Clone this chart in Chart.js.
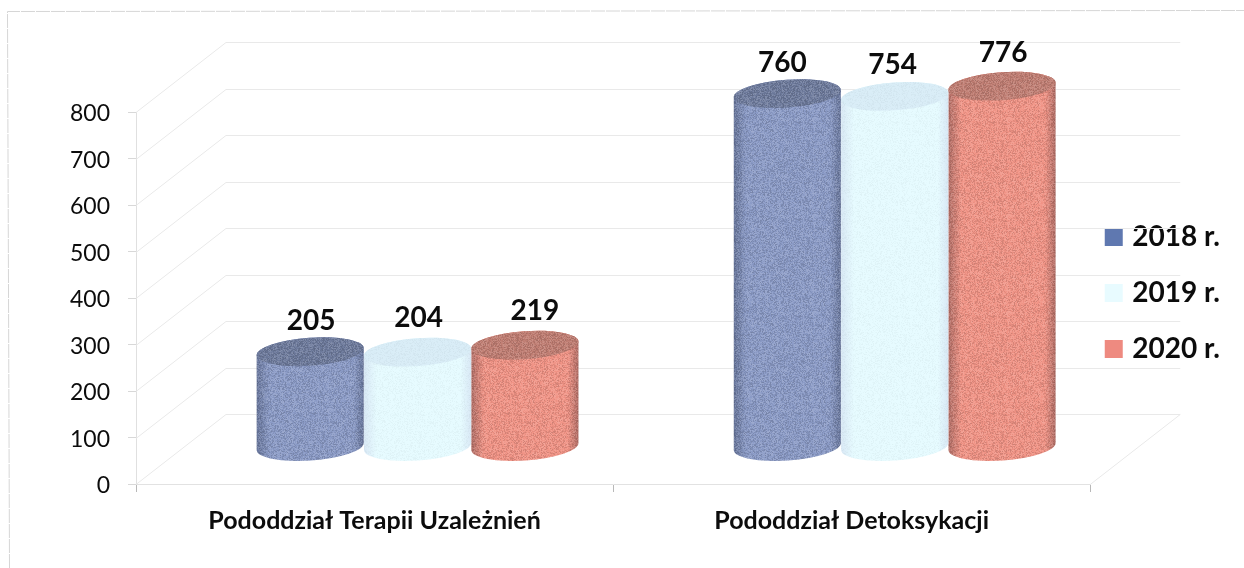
<!DOCTYPE html>
<html><head><meta charset="utf-8">
<script src="https://cdn.jsdelivr.net/npm/chart.js@4"></script>
<style>html,body{margin:0;padding:0;background:#fff}#w{width:1244px;height:568px}canvas{display:block;filter:blur(.4px)}</style>
</head><body><div id="w"><canvas id="c" width="1244" height="568"></canvas></div>
<script>
const categories = ['Pododdział Terapii Uzależnień', 'Pododdział Detoksykacji'];
const seriesNames = ['2018 r.', '2019 r.', '2020 r.'];
const values2018 = [205, 760];
const values2019 = [204, 754];
const values2020 = [219, 776];
const yTicksMax = 800;
const yTickStep = 100;

const FONT = 'Lato, Carlito, sans-serif';
const DEPTH_X = 90, DEPTH_Y = 70;      // 3-D wall offset
const BAR_DX = 43, BAR_DY = -37;       // cylinders stand mid-depth
const RY = 14, ROT = -0.07;
// small hand-placement of the value labels, per series then category
const LABEL_NUDGE = [[[0,0],[-6,0]], [[0,-3],[-3,0]], [[9,-3],[0,-2]]];

const palette = {
  '#5f78b0': {edge:'#66749a', mid:'#8a9ac6', top:'#6d7a9c', noise:.17},
  '#e8fbff': {edge:'#d8e8f5', mid:'#e6fbff', top:'#d9edf7', noise:.04},
  '#ee8a80': {edge:'#b06c64', mid:'#f19385', top:'#c07d72', noise:.16}
};

// fine grain like the scanned original
const grain = document.createElement('canvas');
grain.width = grain.height = 97;
(function(){
  const g = grain.getContext('2d'), im = g.createImageData(97,97);
  let s = 12345;
  for (let i=0;i<im.data.length;i+=4){
    s = (s*1103515245+12345)&0x7fffffff;
    const v = (s>>16)&255;
    const dark = v<128;
    im.data[i]=im.data[i+1]=im.data[i+2]=dark?20:255;
    im.data[i+3]=dark?(128-v)*2:(v-128)*2;
  }
  g.putImageData(im,0,0);
})();

Chart.BarElement.prototype.draw = function(ctx){
  const {x,y,base,width,options} = this;
  const c = palette[options.backgroundColor] || palette['#5f78b0'];
  const cx = x+BAR_DX, rx = width/2, top = y+BAR_DY, bot = base+BAR_DY;
  const pat = ctx.createPattern(grain,'repeat');
  ctx.save();
  const body = new Path2D();
  body.ellipse(cx,bot,rx,RY,ROT,0,Math.PI);
  body.ellipse(cx,top,rx,RY,ROT,Math.PI,Math.PI*2);
  body.closePath();
  const gr = ctx.createLinearGradient(cx-rx,0,cx+rx,0);
  gr.addColorStop(0,c.edge); gr.addColorStop(.12,c.mid);
  gr.addColorStop(.9,c.mid); gr.addColorStop(1,c.edge);
  ctx.fillStyle = gr; ctx.fill(body);
  const lid = new Path2D();
  lid.ellipse(cx,top,rx,RY,ROT,0,Math.PI*2);
  ctx.fillStyle = c.top; ctx.fill(lid);
  ctx.globalAlpha = c.noise; ctx.fillStyle = pat;
  ctx.fill(body);
  ctx.restore();
};

const decor = {
  id:'decor',
  afterLayout(chart){
    const lg = chart.legend;            // legend sits mid-height of the plot, closer to it
    const d = 293-(lg.top+lg.bottom)/2;
    lg.top += d; lg.bottom += d;
    lg.left -= 9; lg.right -= 9;
  },
  beforeDraw(chart){
    const ctx = chart.ctx;
    ctx.save();
    ctx.strokeStyle='#d6d6d6'; ctx.lineWidth=1; ctx.setLineDash([14,1]);
    ctx.beginPath();
    ctx.moveTo(9.5,568); ctx.lineTo(7.5,11.5); ctx.lineTo(1244,10.5);
    ctx.stroke();
    ctx.restore();
  },
  beforeDatasetsDraw(chart){
    const {ctx,chartArea:a,scales:{y}} = chart;
    ctx.save();
    ctx.strokeStyle='#e9e9e9'; ctx.lineWidth=1;
    y.ticks.forEach(t=>{
      const py = Math.round(y.getPixelForValue(t.value))+.5;
      ctx.beginPath();
      ctx.moveTo(a.left,py);
      ctx.lineTo(a.left+DEPTH_X,py-DEPTH_Y);
      ctx.lineTo(a.right+DEPTH_X,py-DEPTH_Y);
      ctx.stroke();
    });
    const y0 = Math.round(y.getPixelForValue(0))+.5;
    ctx.beginPath();
    ctx.moveTo(a.right+DEPTH_X,y0-DEPTH_Y);
    ctx.lineTo(a.right,y0);
    ctx.stroke();
    ctx.restore();
  },
  afterDatasetsDraw(chart){
    const ctx = chart.ctx;
    ctx.save();
    ctx.fillStyle='#0c0c0c'; ctx.font='bold 28px '+FONT;
    ctx.textAlign='center'; ctx.textBaseline='middle';
    chart.data.datasets.forEach((ds,i)=>{
      chart.getDatasetMeta(i).data.forEach((el,j)=>{
        const [nx,ny] = LABEL_NUDGE[i][j];
        ctx.fillText(ds.data[j], el.x+BAR_DX+1+nx, el.y+BAR_DY-31+ny);
      });
    });
    ctx.restore();
  }
};

const mk = (label,data,color)=>({label,data,backgroundColor:color,borderWidth:0,clip:false,pointStyle:'rect'});

new Chart(document.getElementById('c'),{
  type:'bar',
  data:{labels:categories,datasets:[
    mk(seriesNames[0],values2018,'#5f78b0'),
    mk(seriesNames[1],values2019,'#e8fbff'),
    mk(seriesNames[2],values2020,'#ee8a80')
  ]},
  plugins:[decor],
  options:{
    responsive:false,animation:false,
    layout:{padding:{top:112,left:0,right:5,bottom:0}},
    datasets:{bar:{categoryPercentage:.675,barPercentage:1}},
    plugins:{
      legend:{position:'right',labels:{
        usePointStyle:true,pointStyle:'rect',
        boxWidth:9,boxHeight:18,padding:28,color:'#0c0c0c',
        font:{family:FONT,size:28,weight:'bold'}
      }},
      tooltip:{enabled:false}
    },
    scales:{
      x:{
        grid:{drawOnChartArea:false,tickLength:8,tickColor:'#b8b8b8',offset:true},
        border:{color:'#e2e2e2'},
        ticks:{color:'#0c0c0c',font:{family:FONT,size:25,weight:'bold'},maxRotation:0,padding:14},
        afterFit(s){s.height=84;}
      },
      y:{
        min:0,max:yTicksMax,
        grid:{drawOnChartArea:false,tickLength:8,tickColor:'#d8d8d8'},
        border:{color:'#e0e0e0'},
        ticks:{stepSize:yTickStep,color:'#0c0c0c',font:{family:FONT,size:23},padding:18,labelOffset:2},
        afterFit(s){s.width=136;}
      }
    }
  }
});
</script></body></html>
